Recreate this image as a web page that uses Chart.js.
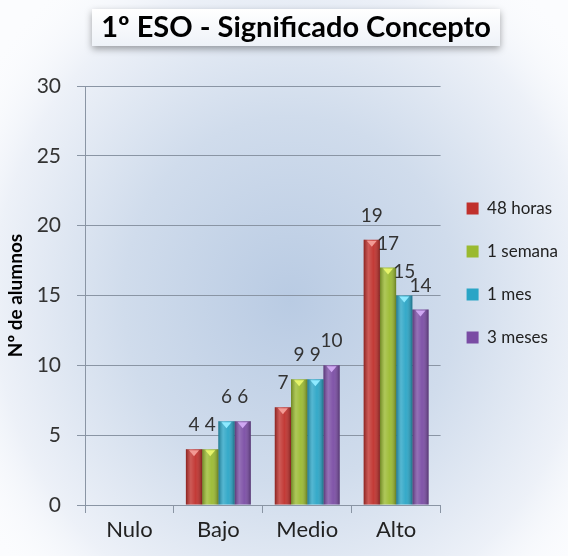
<!DOCTYPE html>
<html>
<head>
<meta charset="utf-8">
<script src="https://cdn.jsdelivr.net/npm/chart.js@4"></script>
<style>
  html, body { margin: 0; padding: 0; background: #fff; }
  #wrap { width: 568px; height: 556px; }
</style>
</head>
<body>
<div id="wrap"><canvas id="grafico" width="568" height="556"></canvas></div>
<script>
const categorias = ["Nulo", "Bajo", "Medio", "Alto"];
const series = ["48 horas", "1 semana", "1 mes", "3 meses"];
const horas48 = [0, 4, 7, 19];
const semana1 = [0, 4, 9, 17];
const mes1 = [0, 6, 9, 15];
const meses3 = [0, 6, 10, 14];
const ticksY = [0, 5, 10, 15, 20, 25, 30];

const colores = ["#c0302c", "#9aba30", "#2aa5c6", "#7a4ca4"];
const puntas = ["#f29a94", "#e6f46a", "#8eeaff", "#cfa8f2"];
const titulo = "1º ESO - Significado Concepto";

Chart.defaults.font.family = "Lato, 'Open Sans', sans-serif";

// fondo azulado con degradado radial
const fondo = {
  id: "fondo",
  beforeDraw(chart) {
    const { ctx, width, height } = chart;
    ctx.save();
    ctx.fillStyle = "#fbfcfe";
    ctx.fillRect(0, 0, width, height);
    ctx.translate(290, 300);
    ctx.scale(1, 1.1);
    const g = ctx.createRadialGradient(0, 0, 0, 0, 0, 370);
    g.addColorStop(0, "#b9cbe3");
    g.addColorStop(0.45, "#d0dcec");
    g.addColorStop(0.8, "#edf1f8");
    g.addColorStop(1, "rgba(251,252,254,0)");
    ctx.fillStyle = g;
    ctx.fillRect(-370, -370, 740, 740);
    ctx.restore();
  }
};

// la leyenda va algo más arriba que el centro del área
const subirLeyenda = {
  id: "subirLeyenda",
  afterLayout(chart) {
    chart.legend.top -= 48;
    chart.legend.bottom -= 48;
  }
};

// caja del título con sombra
const cajaTitulo = {
  id: "cajaTitulo",
  afterDraw(chart) {
    const { ctx } = chart;
    ctx.save();
    ctx.shadowColor = "rgba(0,0,0,0.35)";
    ctx.shadowBlur = 7;
    ctx.shadowOffsetY = 3;
    const g = ctx.createLinearGradient(0, 9, 0, 46);
    g.addColorStop(0, "#ffffff");
    g.addColorStop(1, "#eef2f8");
    ctx.fillStyle = g;
    ctx.fillRect(92, 9, 408, 37);
    ctx.restore();
    ctx.save();
    ctx.fillStyle = "#000";
    ctx.font = "bold 29px Lato, 'Open Sans', sans-serif";
    ctx.textAlign = "center";
    ctx.textBaseline = "middle";
    ctx.fillText(titulo, 296, 28);
    ctx.restore();
  }
};

// relieve de las barras, punta y valor encima
const relieve = {
  id: "relieve",
  afterDatasetsDraw(chart) {
    const { ctx } = chart;
    chart.data.datasets.forEach((ds, i) => {
      const meta = chart.getDatasetMeta(i);
      meta.data.forEach((bar, j) => {
        const v = ds.data[j];
        if (!v) return;
        const { x, y, width, base } = bar.getProps(["x", "y", "width", "base"], true);
        const l = x - width / 2;
        ctx.save();
        const g = ctx.createLinearGradient(l, 0, l + width, 0);
        g.addColorStop(0, "rgba(0,0,0,0.28)");
        g.addColorStop(0.3, "rgba(255,255,255,0.2)");
        g.addColorStop(0.6, "rgba(255,255,255,0.05)");
        g.addColorStop(1, "rgba(0,0,0,0.32)");
        ctx.fillStyle = g;
        ctx.fillRect(l, y, width, base - y);
        ctx.fillStyle = puntas[i];
        ctx.beginPath();
        ctx.moveTo(x - 5, y + 1);
        ctx.lineTo(x + 5, y + 1);
        ctx.lineTo(x, y + 7);
        ctx.closePath();
        ctx.fill();
        ctx.fillStyle = "#333";
        ctx.font = "19px Lato, 'Open Sans', sans-serif";
        ctx.textAlign = "center";
        ctx.textBaseline = "middle";
        ctx.fillText(v, x, y - 24);
        ctx.restore();
      });
    });
  }
};

const valores = [horas48, semana1, mes1, meses3];

new Chart(document.getElementById("grafico"), {
  type: "bar",
  data: {
    labels: categorias,
    datasets: series.map((nombre, i) => ({
      label: nombre,
      data: valores[i],
      backgroundColor: colores[i],
      borderWidth: 0,
      categoryPercentage: 0.73,
      barPercentage: 1
    }))
  },
  options: {
    responsive: false,
    animation: false,
    events: [],
    layout: { padding: { top: 86, right: 0, bottom: 0, left: 0 } },
    plugins: {
      legend: {
        position: "right",
        labels: {
          boxWidth: 12,
          boxHeight: 12,
          padding: 26,
          color: "#222",
          font: { size: 17 }
        }
      },
      tooltip: { enabled: false }
    },
    scales: {
      x: {
        grid: { drawOnChartArea: false, tickLength: 8, color: "#8a95a4" },
        border: { color: "#8a95a4" },
        ticks: { color: "#222", font: { size: 22 }, padding: 4 },
        afterFit(s) { s.height = 51; }
      },
      y: {
        min: 0,
        max: 30,
        afterBuildTicks(s) { s.ticks = ticksY.map(v => ({ value: v })); },
        grid: { color: "#8a95a4", tickLength: 8 },
        border: { color: "#8a95a4" },
        ticks: { color: "#333", font: { size: 21 }, padding: 16 },
        title: {
          display: true,
          text: "Nº de alumnos",
          color: "#000",
          font: { size: 19, weight: "bold" },
          padding: { top: 4, bottom: 0 }
        },
        afterFit(s) { s.width = 85; }
      }
    }
  },
  plugins: [fondo, subirLeyenda, relieve, cajaTitulo]
});
</script>
</body>
</html>
